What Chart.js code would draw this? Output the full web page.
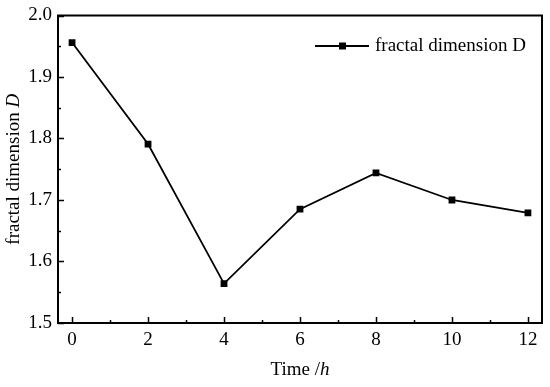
<!DOCTYPE html>
<html>
<head>
<meta charset="utf-8">
<script src="https://cdn.jsdelivr.net/npm/chart.js@4/dist/chart.umd.min.js"></script>
<style>
  html, body { margin: 0; padding: 0; background: #fff; }
  #wrap { width: 550px; height: 387px; }
</style>
</head>
<body>
<div id="wrap"><canvas id="chart" width="550" height="387"></canvas></div>
<script>
// данные
const timeHours = [0, 2, 4, 6, 8, 10, 12];
const fractalD = [1.956, 1.791, 1.564, 1.685, 1.744, 1.700, 1.679];
const seriesName = "fractal dimension D";

const xMajor = [0, 2, 4, 6, 8, 10, 12];
const xMinor = [1, 3, 5, 7, 9, 11];
const yMajor = [1.5, 1.6, 1.7, 1.8, 1.9, 2.0];
const yMinor = [1.55, 1.65, 1.75, 1.85, 1.95];

const SERIF = "'Liberation Serif', 'Times New Roman', serif";
const FS = 19;

// рамка, внутренние засечки и подписи осей
const framePlugin = {
  id: "frame",
  afterDraw(chart) {
    const g = chart.ctx;
    const a = chart.chartArea;
    const xs = chart.scales.x;
    const ys = chart.scales.y;
    g.save();
    g.strokeStyle = "#000";
    g.lineWidth = 2;
    g.strokeRect(a.left, a.top, a.right - a.left, a.bottom - a.top);

    g.lineWidth = 1.5;
    g.beginPath();
    xMajor.forEach((v) => {
      const px = Math.round(xs.getPixelForValue(v)) + 0.5;
      g.moveTo(px, a.bottom);
      g.lineTo(px, a.bottom - 6);
    });
    xMinor.forEach((v) => {
      const px = Math.round(xs.getPixelForValue(v)) + 0.5;
      g.moveTo(px, a.bottom);
      g.lineTo(px, a.bottom - 3);
    });
    yMajor.forEach((v) => {
      const py = Math.round(ys.getPixelForValue(v)) + 0.5;
      g.moveTo(a.left, py);
      g.lineTo(a.left + 6, py);
    });
    yMinor.forEach((v) => {
      const py = Math.round(ys.getPixelForValue(v)) + 0.5;
      g.moveTo(a.left, py);
      g.lineTo(a.left + 3, py);
    });
    g.stroke();

    // подпись оси X: "Time /h" (h курсивом)
    g.fillStyle = "#000";
    g.textBaseline = "middle";
    const normal = FS + "px " + SERIF;
    const italic = "italic " + FS + "px " + SERIF;
    g.font = normal;
    const t1 = "Time /";
    const w1 = g.measureText(t1).width;
    g.font = italic;
    const w2 = g.measureText("h").width;
    let x0 = (a.left + a.right) / 2 - (w1 + w2) / 2;
    g.textAlign = "left";
    g.font = normal;
    g.fillText(t1, x0, 370);
    g.font = italic;
    g.fillText("h", x0 + w1, 370);

    // подпись оси Y: "fractal dimension D" (D курсивом)
    g.translate(14, (a.top + a.bottom) / 2);
    g.rotate(-Math.PI / 2);
    g.font = normal;
    const s1 = "fractal dimension ";
    const v1 = g.measureText(s1).width;
    g.font = italic;
    const v2 = g.measureText("D").width;
    x0 = -(v1 + v2) / 2;
    g.font = normal;
    g.fillText(s1, x0, 0);
    g.font = italic;
    g.fillText("D", x0 + v1, 0);
    g.restore();
  },
};

new Chart(document.getElementById("chart"), {
  type: "line",
  data: {
    datasets: [
      {
        label: seriesName,
        data: timeHours.map((t, i) => ({ x: t, y: fractalD[i] })),
        borderColor: "#000",
        backgroundColor: "#000",
        borderWidth: 1.8,
        pointStyle: "rect",
        pointRadius: 4.8,
        pointBorderWidth: 0,
        tension: 0,
      },
    ],
  },
  options: {
    responsive: false,
    animation: false,
    layout: { padding: { top: 13, right: 8, left: 0, bottom: 0 } },
    plugins: {
      legend: { display: false },
      tooltip: { enabled: false },
    },
    scales: {
      x: {
        type: "linear",
        min: -0.37,
        max: 12.37,
        grid: { display: true, drawOnChartArea: false, drawTicks: false },
        border: { display: false },
        ticks: {
          includeBounds: false,
          stepSize: 2,
          color: "#000",
          padding: 6,
          maxRotation: 0,
          font: { family: SERIF, size: FS },
        },
        afterFit(s) { s.height = 64; },
      },
      y: {
        min: 1.5,
        max: 2.0,
        grid: { display: true, drawOnChartArea: false, drawTicks: false },
        border: { display: false },
        ticks: {
          stepSize: 0.1,
          color: "#000",
          padding: 6,
          font: { family: SERIF, size: FS, lineHeight: 1 },
          callback: (v) => v.toFixed(1),
        },
        afterFit(s) { s.width = 58; },
      },
    },
  },
  plugins: [
    framePlugin,
    {
      // легенда
      id: "legendBox",
      afterDraw(chart) {
        const g = chart.ctx;
        const y = 46;
        g.save();
        g.strokeStyle = "#000";
        g.fillStyle = "#000";
        g.lineWidth = 1.8;
        g.beginPath();
        g.moveTo(315, y);
        g.lineTo(369, y);
        g.stroke();
        g.fillRect(339, y - 3.5, 7, 7);
        g.font = FS + "px " + SERIF;
        g.textBaseline = "middle";
        g.fillText(seriesName, 375, y);
        g.restore();
      },
    },
  ],
});
</script>
</body>
</html>
